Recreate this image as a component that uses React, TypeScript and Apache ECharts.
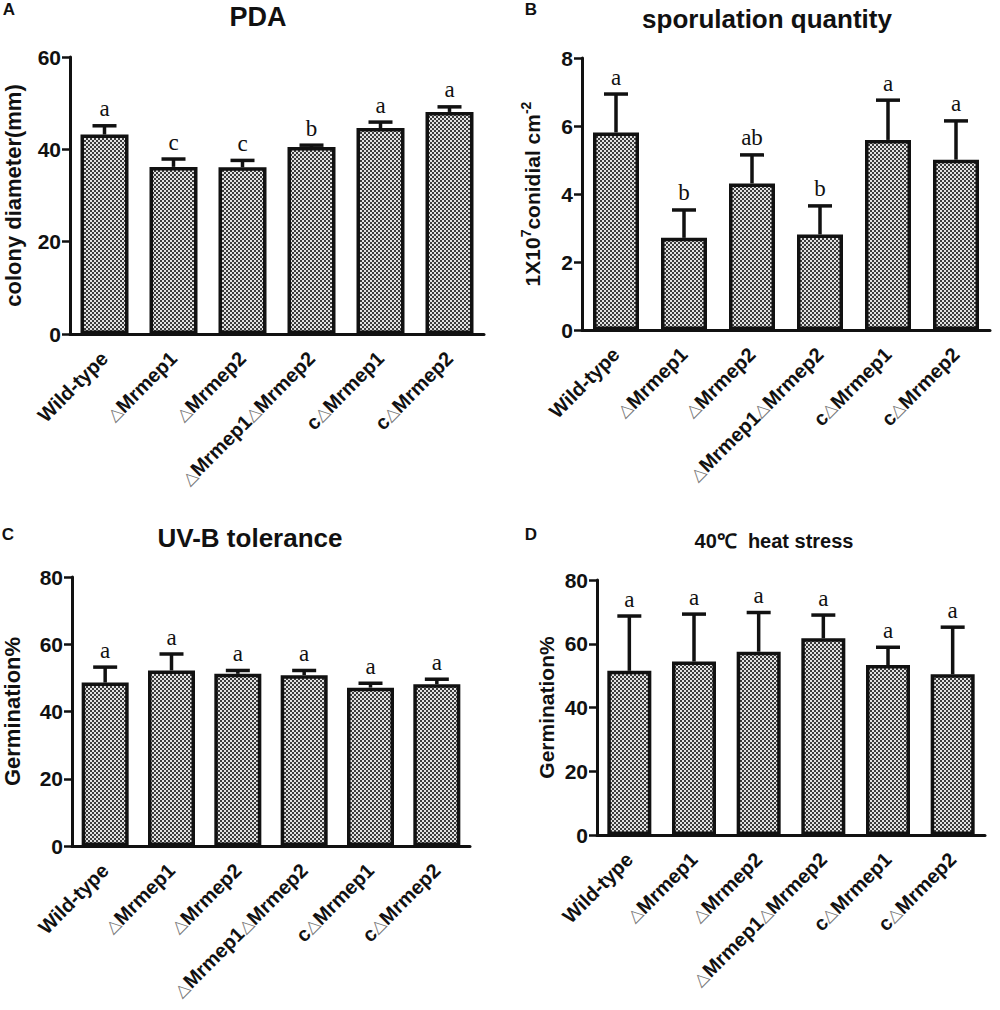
import React, { useEffect, useRef } from "react";
import * as echarts from "echarts";

const categories = ["Wild-type", "△Mrmep1", "△Mrmep2", "△Mrmep1△Mrmep2", "c△Mrmep1", "c△Mrmep2"];

const pdaMean = [43.2, 36.2, 36.1, 40.5, 44.6, 48.1];
const pdaErr = [1.9, 1.7, 1.5, 0.4, 1.3, 1.1];
const pdaLetters = ["a", "c", "c", "b", "a", "a"];

const sporMean = [5.81, 2.71, 4.31, 2.81, 5.59, 5.01];
const sporErr = [1.13, 0.82, 0.84, 0.84, 1.17, 1.14];
const sporLetters = ["a", "b", "ab", "b", "a", "a"];

const uvMean = [48.6, 52.2, 51.2, 50.8, 47.1, 48.1];
const uvErr = [4.6, 4.9, 1.0, 1.4, 1.3, 1.5];
const uvLetters = ["a", "a", "a", "a", "a", "a"];

const heatMean = [51.5, 54.4, 57.5, 61.7, 53.3, 50.4];
const heatErr = [17.2, 14.9, 12.3, 7.3, 5.6, 14.8];
const heatLetters = ["a", "a", "a", "a", "a", "a"];

const titles = ["PDA", "sporulation quantity", "UV-B tolerance", "40℃  heat stress"];
const panelLetters = ["A", "B", "C", "D"];
const yNames = ["colony diameter(mm)", "{b|1X10}{s|7}{b|conidial cm}{s|-2}", "Germination%", "Germination%"];
const yMax = [60, 8, 80, 80];
const yInterval = [20, 2, 20, 20];

const SANS = '"Liberation Sans", Arial, sans-serif';
const INK = "#111";

export default function App() {
  const ref = useRef<HTMLDivElement>(null);
  useEffect(() => {
    if (!ref.current) return;
    const chart = echarts.init(ref.current, undefined, { renderer: "svg" });

    const cv = document.createElement("canvas");
    cv.width = 4;
    cv.height = 4;
    const ctx = cv.getContext("2d")!;
    ctx.fillStyle = "#e2e2e2";
    ctx.fillRect(0, 0, 4, 4);
    ctx.fillStyle = "#3c3c3c";
    ctx.fillRect(0, 0, 2, 2);
    ctx.fillRect(2, 2, 2, 2);
    const pattern: any = { image: cv, repeat: "repeat" };

    const grids = [
      { left: 70, top: 57, width: 414, height: 277 },
      { left: 582, top: 58, width: 408, height: 272 },
      { left: 67, top: 577, width: 403, height: 269 },
      { left: 597, top: 580, width: 388, height: 255 },
    ];
    const nameGaps = [46, 36, 49, 40];
    const nameSizes = [22, 21, 22, 21];
    const barWidths = [48, 46, 47, 44];
    const means = [pdaMean, sporMean, uvMean, heatMean];
    const errs = [pdaErr, sporErr, uvErr, heatErr];
    const letters = [pdaLetters, sporLetters, uvLetters, heatLetters];

    const xAxes = grids.map((_, i) => ({
      type: "category",
      gridIndex: i,
      data: categories,
      axisLine: { lineStyle: { color: INK, width: 3 } },
      axisTick: { alignWithLabel: true, length: 8, lineStyle: { color: INK, width: 2.5 } },
      axisLabel: {
        interval: 0,
        rotate: 45,
        margin: 21,
        color: INK,
        fontFamily: SANS,
        fontWeight: "bold",
        fontSize: 20,
        formatter: (v: string) => v.replace(/△/g, "{t|△}"),
        rich: {
          t: { color: "#777", fontSize: 17, fontFamily: SANS, fontWeight: "normal" },
        },
      },
      splitLine: { show: false },
    }));

    const yAxes = grids.map((_, i) => ({
      type: "value",
      gridIndex: i,
      min: 0,
      max: yMax[i],
      interval: yInterval[i],
      name: yNames[i],
      nameLocation: "middle",
      nameGap: nameGaps[i],
      nameTextStyle: {
        color: INK,
        fontFamily: SANS,
        fontWeight: "bold",
        fontSize: nameSizes[i],
        rich: {
          b: { color: INK, fontFamily: SANS, fontWeight: "bold", fontSize: 21, lineHeight: 27 },
          s: { color: INK, fontFamily: SANS, fontWeight: "bold", fontSize: 14, lineHeight: 15, verticalAlign: "top" },
        },
      },
      axisLine: { show: true, lineStyle: { color: INK, width: 3 } },
      axisTick: { show: true, length: 8, lineStyle: { color: INK, width: 2.5 } },
      axisLabel: { color: INK, fontFamily: SANS, fontWeight: "bold", fontSize: 21, margin: 9 },
      splitLine: { show: false },
    }));

    const series: any[] = [];
    grids.forEach((_, i) => {
      series.push({
        type: "bar",
        xAxisIndex: i,
        yAxisIndex: i,
        data: means[i],
        barWidth: barWidths[i],
        itemStyle: { color: pattern, borderColor: INK, borderWidth: 3.5 },
        z: 2,
      });
      const lts = letters[i];
      series.push({
        type: "custom",
        xAxisIndex: i,
        yAxisIndex: i,
        z: 3,
        data: means[i].map((m, k) => [k, m, m + errs[i][k]]),
        renderItem: (params: any, api: any) => {
          const x = api.value(0);
          const p0 = api.coord([x, api.value(1)]);
          const p1 = api.coord([x, api.value(2)]);
          return {
            type: "group",
            children: [
              { type: "line", shape: { x1: p0[0], y1: p0[1], x2: p1[0], y2: p1[1] }, style: { stroke: INK, lineWidth: 3.5 } },
              { type: "line", shape: { x1: p1[0] - 12, y1: p1[1], x2: p1[0] + 12, y2: p1[1] }, style: { stroke: INK, lineWidth: 3.5 } },
              {
                type: "text",
                x: p1[0],
                y: p1[1] - 17,
                style: {
                  text: lts[params.dataIndex],
                  fill: INK,
                  fontFamily: '"Liberation Serif", "Times New Roman", serif',
                  fontSize: 23,
                  align: "center",
                  verticalAlign: "middle",
                },
              },
            ],
          };
        },
      });
    });

    const titlePos = [
      [258, 17, 27],
      [767, 19, 26],
      [250, 538, 26],
      [774, 541, 20],
    ];
    const letterPos = [
      [9, 9],
      [531, 9],
      [8, 534],
      [531, 534],
    ];
    const graphic: any[] = [];
    titlePos.forEach((p, i) => {
      graphic.push({
        type: "text",
        x: p[0],
        y: p[1],
        style: { text: titles[i], fill: INK, fontFamily: SANS, fontWeight: "bold", fontSize: p[2], align: "center", verticalAlign: "middle" },
      });
      graphic.push({
        type: "text",
        x: letterPos[i][0],
        y: letterPos[i][1],
        style: { text: panelLetters[i], fill: INK, fontFamily: SANS, fontWeight: "bold", fontSize: 17, align: "center", verticalAlign: "middle" },
      });
    });

    chart.setOption({
      animation: false,
      backgroundColor: "#fff",
      grid: grids,
      xAxis: xAxes,
      yAxis: yAxes,
      series,
      graphic,
    } as any);

    return () => chart.dispose();
  }, []);

  return <div ref={ref} style={{ position: "absolute", left: 0, top: 0, width: 1000, height: 1010 }} />;
}
